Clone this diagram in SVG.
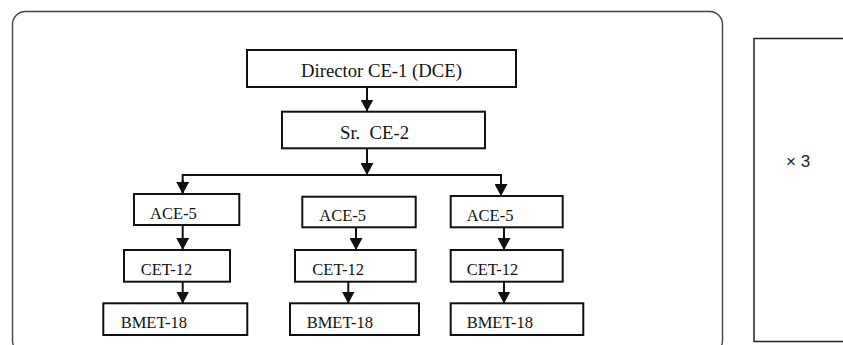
<svg xmlns="http://www.w3.org/2000/svg" width="843" height="345" viewBox="0 0 843 345">
<style>
.box{fill:#fff;stroke:#111;stroke-width:2}
.c{stroke:#111;stroke-width:2;fill:none}
</style>
<defs>
<marker id="ah" markerUnits="userSpaceOnUse" markerWidth="13" markerHeight="13" refX="12" refY="6.5" orient="auto">
<path d="M0,0 L12,6.5 L0,13 z" fill="#111"/>
</marker>
</defs>
<rect x="12.5" y="11.5" width="710" height="342" rx="13" fill="none" stroke="#444" stroke-width="1.4"/>
<rect id="multiplier" x="754" y="38.5" width="100" height="303" fill="none" stroke="#222" stroke-width="1.5"/>
<text x="786" y="167" font-family="Liberation Sans, Arial, sans-serif" font-size="17" fill="#222">× 3</text>
<g id="connectors">
<line class="c" x1="367" y1="87" x2="367" y2="111.5" marker-end="url(#ah)"/>
<line class="c" x1="367" y1="148.5" x2="367" y2="175" marker-end="url(#ah)"/>
<polyline class="c" points="182.7,195 182.7,175 501,175 501,196"/>
<line class="c" x1="182.7" y1="180" x2="182.7" y2="194" marker-end="url(#ah)"/>
<line class="c" x1="501" y1="180" x2="501" y2="196" marker-end="url(#ah)"/>
<line class="c" x1="182.7" y1="225" x2="182.7" y2="250" marker-end="url(#ah)"/>
<line class="c" x1="182.7" y1="282" x2="182.7" y2="303.5" marker-end="url(#ah)"/>
<line class="c" x1="356" y1="227.5" x2="356" y2="250" marker-end="url(#ah)"/>
<line class="c" x1="348.3" y1="282" x2="348.3" y2="303.5" marker-end="url(#ah)"/>
<line class="c" x1="504" y1="227.5" x2="504" y2="250" marker-end="url(#ah)"/>
<line class="c" x1="504" y1="282" x2="504" y2="303.5" marker-end="url(#ah)"/>
</g>
<g font-family="Liberation Serif, Times New Roman, serif" fill="#111" font-size="16.5">
<g id="director"><rect class="box" x="247" y="50" width="269" height="37"/><text font-size="18.7" x="301" y="77">Director CE-1 (DCE)</text></g>
<g id="sr-ce"><rect class="box" x="282" y="111.7" width="203" height="36.6"/><text font-size="18.7" x="340" y="139" xml:space="preserve">Sr.  CE-2</text></g>
<g id="ace-1"><rect class="box" x="134" y="194" width="105.3" height="31"/><text x="150" y="219">ACE-5</text></g>
<g id="cet-1"><rect class="box" x="124" y="250" width="106" height="31.7"/><text x="140.7" y="275">CET-12</text></g>
<g id="bmet-1"><rect class="box" x="103.3" y="303.3" width="144" height="31.7"/><text x="120.7" y="327.5">BMET-18</text></g>
<g id="ace-2"><rect class="box" x="302.3" y="196.7" width="113.4" height="30.6"/><text x="319.3" y="221">ACE-5</text></g>
<g id="cet-2"><rect class="box" x="295" y="250" width="120.7" height="31.7"/><text x="312.3" y="275">CET-12</text></g>
<g id="bmet-2"><rect class="box" x="290" y="303.3" width="129" height="31.7"/><text x="306.7" y="327.5">BMET-18</text></g>
<g id="ace-3"><rect class="box" x="450.7" y="196" width="112" height="31.3"/><text x="466.7" y="220.5">ACE-5</text></g>
<g id="cet-3"><rect class="box" x="450.7" y="250" width="112" height="31.7"/><text x="466.7" y="275">CET-12</text></g>
<g id="bmet-3"><rect class="box" x="450.7" y="303.3" width="132.6" height="31.7"/><text x="466.7" y="327.5">BMET-18</text></g>
</g>
</svg>
